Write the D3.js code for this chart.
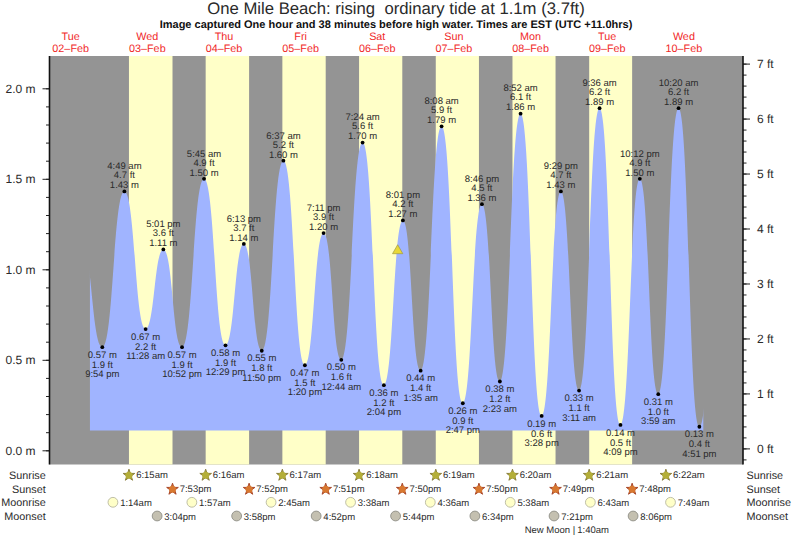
<!DOCTYPE html>
<html>
<head>
<meta charset="utf-8">
<script src="https://cdn.jsdelivr.net/npm/d3@7"></script>
<style>
  html, body { margin: 0; padding: 0; background: #fff; }
  svg { display: block; }
  text { font-family: "Liberation Sans", Arial, sans-serif; fill: #2a2a2a; text-rendering: geometricPrecision; }
</style>
</head>
<body>
<svg id="chart"></svg>
<script>
// tide turning points, low and high take turns
const tideTimes = [
  "02 21:54", "03 04:49", "03 11:28", "03 17:01", "03 22:52",
  "04 05:45", "04 12:29", "04 18:13", "04 23:50",
  "05 06:37", "05 13:20", "05 19:11",
  "06 00:44", "06 07:24", "06 14:04", "06 20:01",
  "07 01:35", "07 08:08", "07 14:47", "07 20:46",
  "08 02:23", "08 08:52", "08 15:28", "08 21:29",
  "09 03:11", "09 09:36", "09 16:09", "09 22:12",
  "10 03:59", "10 10:20", "10 16:51"
];
const tideMetres = [
  0.57, 1.43, 0.67, 1.11, 0.57,
  1.50, 0.58, 1.14, 0.55,
  1.60, 0.47, 1.20,
  0.50, 1.70, 0.36, 1.27,
  0.44, 1.79, 0.26, 1.36,
  0.38, 1.86, 0.19, 1.43,
  0.33, 1.89, 0.14, 1.50,
  0.31, 1.89, 0.13
];
const tideFeet = [
  1.9, 4.7, 2.2, 3.6, 1.9,
  4.9, 1.9, 3.7, 1.8,
  5.2, 1.5, 3.9,
  1.6, 5.6, 1.2, 4.2,
  1.4, 5.9, 0.9, 4.5,
  1.2, 6.1, 0.6, 4.7,
  1.1, 6.2, 0.5, 4.9,
  1.0, 6.2, 0.4
];
// the curve is cut at these times; the turns just outside them are estimates
const curveStart = "02 18:02";
const curveEnd = "10 18:05";
const turnBefore = { time: "02 15:20", metres: 1.15 };
const turnAfter = { time: "10 22:51", metres: 1.2 };
const curveBase = 0.11;

const dayNames = ["Tue", "Wed", "Thu", "Fri", "Sat", "Sun", "Mon", "Tue", "Wed"];
const dayDates = ["02", "03", "04", "05", "06", "07", "08", "09", "10"];

const sunrises = ["03 06:15", "04 06:16", "05 06:17", "06 06:18", "07 06:19", "08 06:20", "09 06:21", "10 06:22"];
const sunsets = ["03 19:53", "04 19:52", "05 19:51", "06 19:50", "07 19:50", "08 19:49", "09 19:48"];
const sunsetsShown = ["7:53pm", "7:52pm", "7:51pm", "7:50pm", "7:50pm", "7:49pm", "7:48pm"];
const moonrises = ["03 01:14", "04 01:57", "05 02:45", "06 03:38", "07 04:36", "08 05:38", "09 06:43", "10 07:49"];
const moonsets = ["03 15:04", "04 15:58", "05 16:52", "06 17:44", "07 18:34", "08 19:21", "09 20:06"];
const newMoon = "09 01:40";
const nowTime = "06 18:23";
const nowMetres = 1.1;

const rowNames = ["Sunrise", "Sunset", "Moonrise", "Moonset"];
const metreTicks = [0, 0.5, 1, 1.5, 2];
const feetTicks = [0, 1, 2, 3, 4, 5, 6, 7];

const width = 793, height = 537;
const plot = { left: 49.5, right: 743, top: 56, bottom: 464.5 };

const svg = d3.select("#chart").attr("width", width).attr("height", height);

const parse = s => d3.utcParse("%Y-%m-%d %H:%M")("2021-02-" + s);

const x = d3.scaleUtc()
  .domain([parse("03 00:00"), parse("10 00:00")])
  .range([109, 109 + 7 * 76.65]);
const y = d3.scaleLinear().domain([0, 2]).range([450.3, 88.3]);
const yFeet = d3.scaleLinear().domain([0, 7]).range([448.4, 63.6]);

const clock = d3.utcFormat("%-I:%M %p");
const clockShort = s => clock(parse(s)).replace(" ", "").toLowerCase();
const tides = tideTimes.map((t, i) => ({
  date: parse(t), m: tideMetres[i], ft: tideFeet[i], low: i % 2 === 0
}));

// background: night grey, daylight yellow
svg.append("rect")
  .attr("x", plot.left).attr("y", plot.top)
  .attr("width", plot.right - plot.left).attr("height", plot.bottom - plot.top)
  .attr("fill", "#949494");

svg.append("g").selectAll("rect")
  .data(sunsets)
  .join("rect")
  .attr("x", (d, i) => x(parse(sunrises[i])))
  .attr("y", plot.top)
  .attr("width", (d, i) => x(parse(d)) - x(parse(sunrises[i])))
  .attr("height", plot.bottom - plot.top)
  .attr("fill", "#ffffc8");

// tide
svg.append("clipPath").attr("id", "tide-clip")
  .append("rect")
  .attr("x", x(parse(curveStart))).attr("y", plot.top)
  .attr("width", x(parse(curveEnd)) - x(parse(curveStart)))
  .attr("height", plot.bottom - plot.top);

const curvePoints = [
  { date: parse(turnBefore.time), m: turnBefore.metres },
  ...tides,
  { date: parse(turnAfter.time), m: turnAfter.metres }
];
const area = d3.area()
  .x(d => x(d.date))
  .y0(y(curveBase))
  .y1(d => y(d.m))
  .curve(d3.curveBumpX);
svg.append("path")
  .datum(curvePoints)
  .attr("d", area)
  .attr("clip-path", "url(#tide-clip)")
  .attr("fill", "#a0b4ff");

// axes
function drawAxis(axis, cls, pos) {
  const g = svg.append("g").attr("class", cls)
    .attr("transform", `translate(${pos},0)`)
    .call(axis);
  g.selectAll("line").attr("stroke", "#222");
  g.selectAll("text").attr("font-size", 12).style("font-family", null);
  g.select(".domain").remove();
  return g;
}
const metreMinor = d3.range(0, 21).map(d => d / 10);
const feetMinor = d3.range(-1, 36).map(d => d / 5);

drawAxis(d3.axisLeft(y).tickValues(metreMinor).tickSize(3.5).tickFormat(""), "m-minor", plot.left);
drawAxis(d3.axisLeft(y).tickValues(metreTicks).tickSize(7).tickPadding(7).tickFormat(d => d.toFixed(1) + " m"), "m-major", plot.left);

drawAxis(d3.axisRight(yFeet).tickValues(feetMinor).tickSize(3.5).tickFormat(""), "ft-minor", plot.right);
drawAxis(d3.axisRight(yFeet).tickValues(feetTicks).tickSize(7).tickPadding(7).tickFormat(d => d + " ft"), "ft-major", plot.right);

[plot.left, plot.right].forEach(px => {
  svg.append("line")
    .attr("x1", px).attr("x2", px)
    .attr("y1", plot.top).attr("y2", plot.bottom)
    .attr("stroke", "#111").attr("stroke-width", 1.6);
});

// title
svg.append("text")
  .attr("x", 396).attr("y", 13.5)
  .attr("text-anchor", "middle")
  .attr("font-size", 16.7)
  .style("white-space", "pre")
  .text("One Mile Beach: rising  ordinary tide at 1.1m (3.7ft)");
svg.append("text")
  .attr("x", 396).attr("y", 28)
  .attr("text-anchor", "middle")
  .attr("font-size", 11)
  .attr("font-weight", "bold")
  .style("fill", "#111")
  .text("Image captured One hour and 38 minutes before high water. Times are EST (UTC +11.0hrs)");

// day headers, centred on noon
const days = svg.append("g").selectAll("g")
  .data(dayDates)
  .join("g")
  .attr("transform", d => `translate(${x(parse(d + " 12:00"))},0)`)
  .attr("text-anchor", "middle")
  .attr("font-size", 10.8);
days.append("text").attr("y", 40).style("fill", "#f02828").text((d, i) => dayNames[i]);
days.append("text").attr("y", 52).style("fill", "#f02828").text(d => d + "–Feb");

// tide labels and dots
const labels = svg.append("g").selectAll("g")
  .data(tides)
  .join("g")
  .attr("transform", d => `translate(${x(d.date)},${y(d.m)})`)
  .attr("text-anchor", "middle")
  .attr("font-size", 9.5);
labels.append("text")
  .attr("y", d => d.low ? 10.7 : -22.2)
  .text(d => d.low ? d.m.toFixed(2) + " m" : clock(d.date).toLowerCase());
labels.append("text")
  .attr("y", d => d.low ? 20.7 : -13.2)
  .text(d => d.ft.toFixed(1) + " ft");
labels.append("text")
  .attr("y", d => d.low ? 30 : -3.2)
  .text(d => d.low ? clock(d.date).toLowerCase() : d.m.toFixed(2) + " m");
labels.append("circle").attr("r", 1.9).attr("fill", "#000");

// current level marker
svg.append("path")
  .attr("d", d3.symbol(d3.symbolTriangle, 46))
  .attr("transform", `translate(${x(parse(nowTime))},${y(nowMetres) - 0.5})`)
  .attr("fill", "#e8d838")
  .attr("stroke", "#a09a40")
  .attr("stroke-width", 0.7);

// sun and moon rows
const rowY = [474.7, 488.7, 502.3, 516];
svg.append("g").attr("font-size", 10.8).attr("text-anchor", "end")
  .selectAll("text").data(rowNames).join("text")
  .attr("x", 45.7).attr("y", (d, i) => rowY[i] + 4).text(d => d);
svg.append("g").attr("font-size", 10.8)
  .selectAll("text").data(rowNames).join("text")
  .attr("x", 746.5).attr("y", (d, i) => rowY[i] + 4).text(d => d);

function drawRow(times, row, icon, texts) {
  const g = svg.append("g").selectAll("g")
    .data(times)
    .join("g")
    .attr("transform", d => `translate(${x(parse(d))},${rowY[row]})`);
  icon(g);
  g.append("text")
    .attr("x", 7.2).attr("y", 3.5)
    .attr("font-size", 9.5)
    .text((d, i) => texts ? texts[i] : clockShort(d));
}
const star = (fill, stroke) => g => {
  g.append("path")
    .attr("d", d3.symbol(d3.symbolStar, 42))
    .attr("transform", "translate(0,0.6)")
    .attr("fill", fill).attr("stroke", stroke).attr("stroke-width", 1);
  g.append("circle").attr("cy", 0.6).attr("r", 3.5).attr("fill", fill);
};
const moon = (fill, stroke) => g => g.append("circle")
  .attr("r", 4.9)
  .attr("fill", fill).attr("stroke", stroke).attr("stroke-width", 0.9);

drawRow(sunrises, 0, star("#b4ae38", "#8c8040"));
drawRow(sunsets, 1, star("#d87830", "#a8482c"), sunsetsShown);
drawRow(moonrises, 2, moon("#ffffc8", "#b8b8a0"));
drawRow(moonsets, 3, moon("#c4c0b0", "#909088"));

svg.append("text")
  .attr("x", x(parse(newMoon)) + 1)
  .attr("y", 532.7)
  .attr("text-anchor", "end")
  .attr("font-size", 9.5)
  .text("New Moon |")
  .clone(true)
  .attr("text-anchor", "start")
  .attr("x", x(parse(newMoon)) + 3)
  .text("1:40am");
</script>
</body>
</html>
